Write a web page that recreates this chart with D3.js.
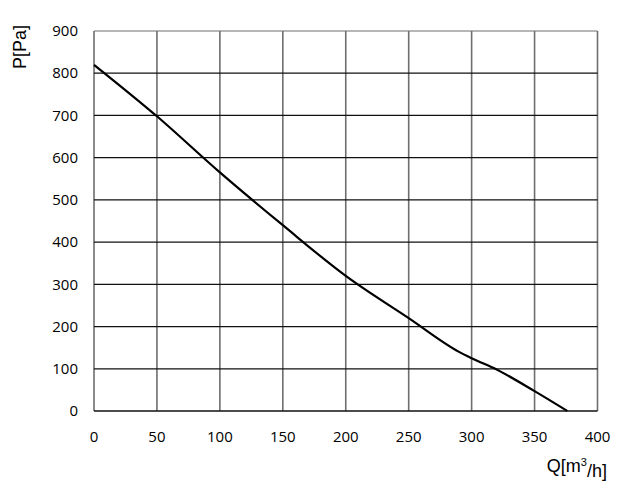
<!DOCTYPE html>
<html><head><meta charset="utf-8">
<script src="https://cdn.jsdelivr.net/npm/d3@7"></script>
<style>body{margin:0;background:#fff}svg text{font-family:"Open Sans","Liberation Sans",sans-serif;}</style>
</head><body>
<svg id="c" width="635" height="490"></svg>
<script>
const flowQ = [0, 50, 100, 150, 200, 250, 290, 300, 320, 350, 376];
const pressureP = [820, 698, 565, 440, 320, 220, 140, 125, 98, 47, 0];
const xTicks = [0, 50, 100, 150, 200, 250, 300, 350, 400];
const yTicks = [0, 100, 200, 300, 400, 500, 600, 700, 800, 900];

const svg = d3.select("#c");
const x = d3.scaleLinear().domain([0, 400]).range([94, 597.5]);
const y = d3.scaleLinear().domain([0, 900]).range([411, 31]);

svg.append("g").selectAll("line").data(xTicks).join("line")
  .attr("x1", d => x(d)).attr("x2", d => x(d)).attr("y1", y(900)).attr("y2", y(0))
  .attr("stroke", "#6e6e6e").attr("stroke-width", 1.6);
svg.append("g").selectAll("line").data(yTicks).join("line")
  .attr("x1", x(0)).attr("x2", x(400)).attr("y1", d => y(d)).attr("y2", d => y(d))
  .attr("stroke", d => d === 900 ? "#6e6e6e" : "#111").attr("stroke-width", d => d === 0 ? 1.6 : 1.2);

svg.append("g").selectAll("text").data(yTicks).join("text")
  .attr("x", 78).attr("y", d => y(d)).attr("dy", "0.35em")
  .attr("text-anchor", "end").attr("font-size", 15).attr("fill", "#000").text(d => d);
svg.append("g").selectAll("text").data(xTicks).join("text")
  .attr("x", d => x(d)).attr("y", 437).attr("dy", "0.35em")
  .attr("text-anchor", "middle").attr("font-size", 15).attr("fill", "#000").text(d => d);

const pts = flowQ.map((q, i) => [q, pressureP[i]]);
svg.append("path").datum(pts)
  .attr("d", d3.line().x(d => x(d[0])).y(d => y(d[1])).curve(d3.curveMonotoneX))
  .attr("fill", "none").attr("stroke", "#000").attr("stroke-width", 2.2);

const xt = svg.append("text").attr("x", 607).attr("y", 466).attr("dy", "0.35em")
  .attr("text-anchor", "end").attr("font-size", 18).attr("fill", "#000")
  .style("font-family", "'Liberation Sans', Arial, sans-serif");
xt.append("tspan").text("Q[m");
xt.append("tspan").attr("font-size", 11).attr("dy", "-0.6em").text("3");
xt.append("tspan").attr("dy", "0.6em").text("/h]");

svg.append("text").attr("transform", "translate(20,47) rotate(-90)")
  .attr("dy", "0.35em").attr("text-anchor", "middle").attr("font-size", 18).attr("fill", "#000")
  .style("font-family", "'Liberation Sans', Arial, sans-serif").text("P[Pa]");
</script>
</body></html>
